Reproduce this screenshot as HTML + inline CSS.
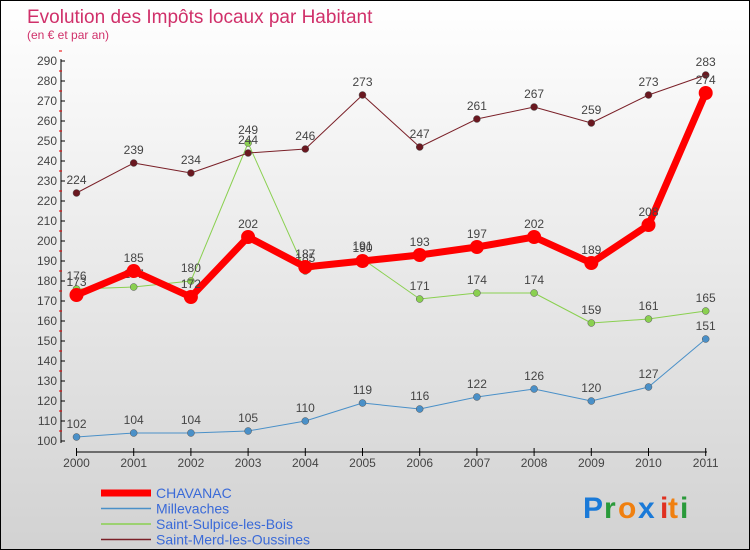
<!DOCTYPE html>
<html><head><meta charset="utf-8"><style>
body{margin:0}
#c{width:748px;height:548px;border:1px solid #000;background:linear-gradient(#fff,#d2d2d2);position:relative;font-family:"Liberation Sans",sans-serif;overflow:hidden}
</style></head><body>
<div id="c">
<svg id="s" width="748" height="548" xmlns="http://www.w3.org/2000/svg">
<text x="26" y="22" font-size="19" fill="#d0306a">Evolution des Impôts locaux par Habitant</text>
<text x="26" y="38" font-size="12" fill="#d0306a">(en € et par an)</text>
<g id="axes"></g><g id="series"></g><g id="legend"></g>
<g font-size="30" font-weight="bold">
<text x="582" y="517" fill="#1a7ad8">P</text><text x="603" y="517" fill="#2a9a3a">r</text><text x="617" y="517" fill="#f08010">o</text><text x="637" y="517" fill="#1a7ad8">x</text><text x="659" y="517" fill="#e03020">i</text><text x="667" y="517" fill="#f08010">t</text><text x="679" y="517" fill="#2a9a3a">i</text>
</g>
</svg></div>
<script>
const years=[2000,2001,2002,2003,2004,2005,2006,2007,2008,2009,2010,2011];
const yTicks=[100,110,120,130,140,150,160,170,180,190,200,210,220,230,240,250,260,270,280,290];
const chavanac=[173,185,172,202,187,190,193,197,202,189,208,274];
const millevaches=[102,104,104,105,110,119,116,122,126,120,127,151];
const sulpice=[176,177,180,249,185,191,171,174,174,159,161,165];
const merd=[224,239,234,244,246,273,247,261,267,259,273,283];
const NS="http://www.w3.org/2000/svg";
const X=i=>75.5+i*57.2, Y=v=>440-(v-100)*2;
function mk(t,a,p){const e=document.createElementNS(NS,t);for(const k in a)e.setAttribute(k,a[k]);p.appendChild(e);return e;}
const ax=document.getElementById('axes');
let yl=mk('line',{x1:60,y1:58,x2:60,y2:442,stroke:'#000'},ax);


yTicks.forEach(v=>{
 mk('line',{x1:60,x2:64,y1:Y(v),y2:Y(v),stroke:'#000'},ax);
 mk('line',{x1:58,x2:61,y1:Y(v)-10,y2:Y(v)-10,stroke:'#e00'},ax);
 const t=mk('text',{x:56,y:Y(v)+4,'text-anchor':'end','font-size':12,fill:'#444'},ax);t.textContent=v;
 
 
});
let xl=mk('line',{x1:75,y1:451,x2:706,y2:451,stroke:'#000'},ax);


years.forEach((y,i)=>{
 mk('line',{x1:X(i),x2:X(i),y1:447,y2:455,stroke:'#000'},ax);
 const t=mk('text',{x:X(i),y:466,'text-anchor':'middle','font-size':12,fill:'#444'},ax);t.textContent=y;
 
 
});
const sg=document.getElementById('series');
function series(name,data,color,w,r,fill){
 const g=mk('g',{},sg);
 
 
 mk('polyline',{points:data.map((v,i)=>X(i)+','+Y(v)).join(' '),fill:'none',stroke:color,'stroke-width':w,'stroke-linejoin':'round'},g);
 data.forEach((v,i)=>{
  const c=mk('circle',{cx:X(i),cy:Y(v),r:r,fill:fill,stroke:w>3?'none':'#555','stroke-width':0.5},g);
  
  
  const t=mk('text',{x:X(i),y:Y(v)-9,'text-anchor':'middle','font-size':12,fill:'#444'},g);t.textContent=v;
 });
}
series('millevaches',millevaches,'#4a90c8',1,3.5,'#4a90c8');
series('saint-sulpice',sulpice,'#8ad050',1,3.5,'#8ad050');
series('saint-merd',merd,'#7a2028',1,3.5,'#6a1820');
series('chavanac',chavanac,'#f00',7,7,'#f00');
const lg=document.getElementById('legend');
[['CHAVANAC','#f00',7],['Millevaches','#4a90c8',1.5],['Saint-Sulpice-les-Bois','#8ad050',1.5],['Saint-Merd-les-Oussines','#7a2028',1.5]].forEach((d,i)=>{
 const y=492+i*15.5;
 const g=mk('g',{},lg);
 
 
 mk('line',{x1:100,x2:150,y1:y,y2:y,stroke:d[1],'stroke-width':d[2]},g);
 const t=mk('text',{x:155,y:y+5,'font-size':14,fill:'#3a6ad8'},g);t.textContent=d[0];
});
</script>
</body></html>
